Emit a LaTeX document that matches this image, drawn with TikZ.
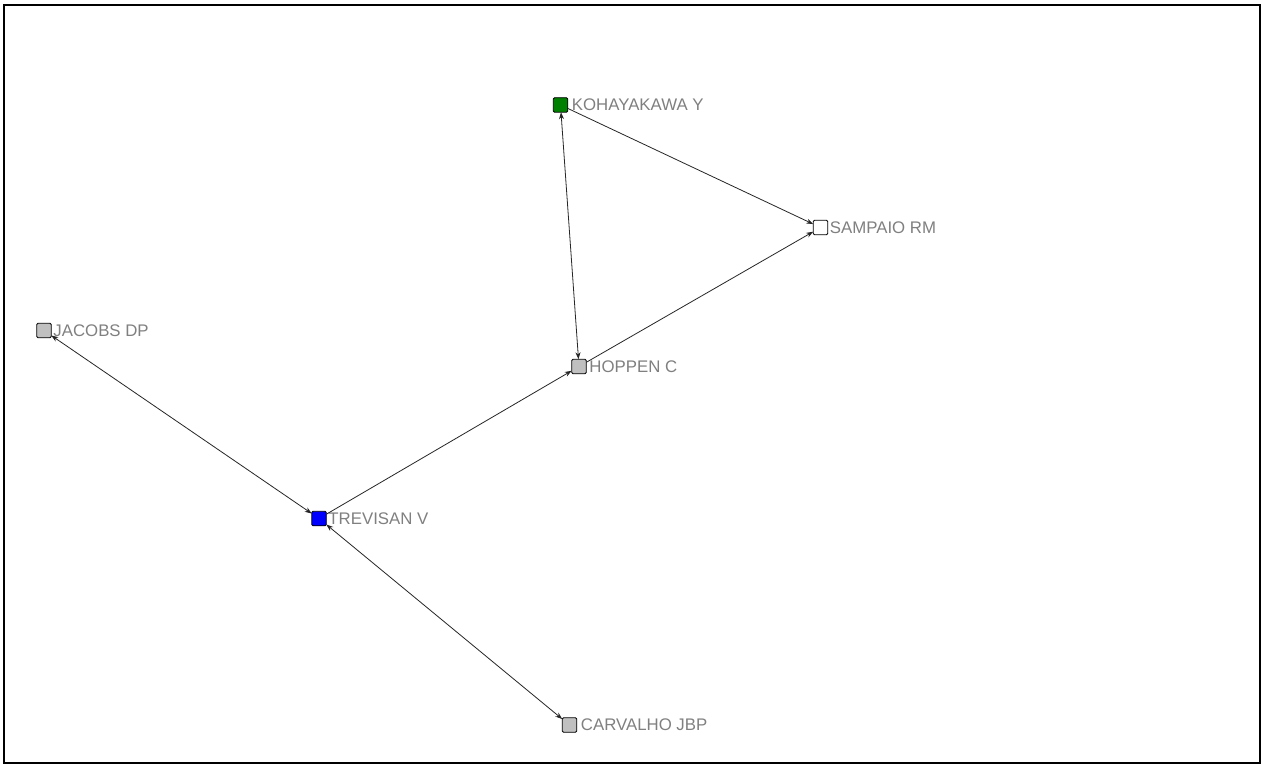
\documentclass[tikz,border=0pt]{standalone}
\usepackage{fontspec}
\setmainfont{Liberation Sans}
\usetikzlibrary{arrows.meta}
\definecolor{labelgray}{RGB}{128,128,128}
\definecolor{nodegray}{RGB}{192,192,192}
\definecolor{kgreen}{RGB}{0,128,0}
\definecolor{tblue}{RGB}{0,0,255}
\begin{document}
\begin{tikzpicture}[x=1pt,y=-1pt,
  actor/.style={draw=black,line width=0.9pt,rounded corners=1.2pt,minimum size=14.5pt,inner sep=0pt,outer sep=0pt},
  lbl/.style={anchor=west,text=labelgray,font=\fontsize{16.8}{19}\selectfont,inner sep=0pt},
  tie/.style={draw=black!85,line width=0.8pt,-{Stealth[length=7pt,width=5pt]}},
  mutual/.style={draw=black!85,line width=0.8pt,{Stealth[length=7pt,width=5pt]}-{Stealth[length=7pt,width=5pt]}}]
\useasboundingbox (0,0) rectangle (1262,765);
\fill[white] (0,0) rectangle (1262,765);
\draw[line width=2pt] (4,5) rectangle (1260,763);

% actors
\node[actor,fill=kgreen]   (koh) at (560.5,105) {};
\node[actor,fill=white]    (sam) at (820.5,227.5) {};
\node[actor,fill=nodegray] (jac) at (44,330.5) {};
\node[actor,fill=nodegray] (hop) at (579,366.5) {};
\node[actor,fill=tblue]    (tre) at (319,518.5) {};
\node[actor,fill=nodegray] (car) at (569.5,725) {};

% names
\node[lbl] (kohl) at ([xshift=4pt]koh.east) {KOHAYAKAWA Y};
\node[lbl] (saml) at ([xshift=2pt]sam.east) {SAMPAIO RM};
\node[lbl] (jacl) at ([xshift=2pt]jac.east) {JACOBS DP};
\node[lbl] (hopl) at ([xshift=3pt]hop.east) {HOPPEN C};
\node[lbl] (trel) at ([xshift=2pt]tre.east) {TREVISAN V};
\node[lbl] (carl) at ([xshift=4pt]car.east) {CARVALHO JBP};

% ties
\draw[mutual] (koh) -- (hop);
\draw[tie] (koh) -- (sam);
\draw[tie] (hop) -- (sam);
\draw[tie] (tre) -- (hop);
\draw[mutual] (jac) -- (tre);
\draw[mutual] (tre) -- (car);
\end{tikzpicture}
\end{document}
